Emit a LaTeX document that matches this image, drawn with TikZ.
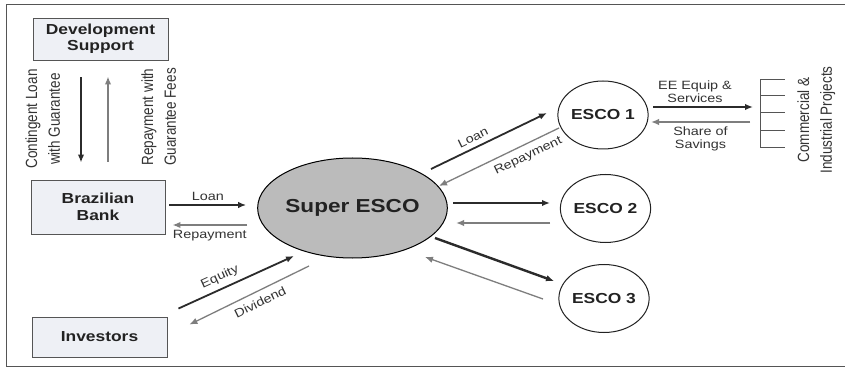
\documentclass[tikz,border=0pt]{standalone}
\usepackage{fontspec}
\usepackage{graphicx}
\setmainfont{Liberation Sans}[FakeStretch=1.2]
\newfontfamily\vfont{Liberation Sans}
\usetikzlibrary{arrows.meta,shapes.geometric,calc}
\definecolor{boxfill}{HTML}{EEF0F5}
\definecolor{boxline}{HTML}{555555}
\definecolor{darkarrow}{HTML}{2B2B2B}
\definecolor{grayarrow}{HTML}{7E7E7E}
\definecolor{txt}{HTML}{222222}
\definecolor{lbltxt}{HTML}{333333}
\definecolor{superfill}{HTML}{BBBBBB}
\begin{document}
\begin{tikzpicture}[x=1pt,y=-1pt,
  boxnode/.style={draw=boxline, line width=0.9pt, fill=boxfill, inner sep=0pt,
    align=center, text=txt, font=\bfseries\fontsize{14.5}{16.5}\selectfont},
  superstyle/.style={ellipse, draw=black, line width=1pt, fill=superfill, inner sep=0pt,
    minimum width=179pt, minimum height=100pt, text=txt, font=\bfseries\fontsize{18.8}{20}\selectfont},
  escostyle/.style={ellipse, draw=txt, line width=1pt, fill=white, inner sep=0pt,
    minimum width=86pt, minimum height=68pt, text=txt, font=\bfseries\fontsize{14.5}{16}\selectfont},
  lbl/.style={text=lbltxt, inner sep=1pt, align=center, font=\fontsize{12}{13}\selectfont},
  vlbl/.style={text=lbltxt, inner sep=0pt, font=\vfont\fontsize{13.5}{19}\selectfont},
  tip/.style={-{Latex[length=8pt,width=6.5pt]}},
  fwd/.style={tip, draw=darkarrow, line width=1.8pt},
  fwdthick/.style={tip, draw=darkarrow, line width=2.4pt},
  back/.style={tip, draw=grayarrow, line width=1.8pt},
  backthick/.style={tip, draw=grayarrow, line width=2.3pt},
  backthin/.style={tip, draw=grayarrow, line width=1.3pt},
  combline/.style={draw=boxline, line width=1pt}
]
\useasboundingbox (0,0) rectangle (845,371);
\fill[white] (0,0) rectangle (845,371);
\draw[boxline, line width=1pt] (6,5) rectangle (852,366);

% boxes
\node[boxnode, minimum width=135pt, minimum height=42pt] (dev) at (100.5,39) {Development\\Support};
\node[boxnode, minimum width=134pt, minimum height=54pt] (bank) at (98,207) {Brazilian\\Bank};
\node[boxnode, minimum width=135pt, minimum height=40pt] (inv) at (99.5,337) {Investors};

% ellipses
\node[superstyle] (super) at (352.5,208) {Super ESCO};
\node[escostyle] (e1) at (603,115) {ESCO 1};
\node[escostyle] (e2) at (605.5,208.5) {ESCO 2};
\node[escostyle] (e3) at (604,298.5) {ESCO 3};

% comb of projects
\coordinate (comb) at (760,114);
\draw[combline] ([shift={(0,-34)}]comb) -- ([shift={(0,34)}]comb);
\foreach \dy in {-34,-18,-1,17,34}
  \draw[combline] ([shift={(0,\dy)}]comb) -- ++(25,0);

% development support <-> bank
\draw[fwdthick] ([shift={(-19.5,17)}]dev.south) -- ([shift={(-17,-17)}]bank.north);
\draw[back] ([shift={(10,-18)}]bank.north) -- ([shift={(7.5,16)}]dev.south);
\node[vlbl, rotate=90] (contlbl) at (44,119)
  {\scalebox{1}[1.2]{\begin{tabular}{@{}c@{}}Contingent Loan\\with Guarantee\end{tabular}}};
\node[vlbl, rotate=90] (replbl) at (160,117)
  {\scalebox{1}[1.2]{\begin{tabular}{@{}c@{}}Repayment with\\Guarantee Fees\end{tabular}}};

% bank <-> super
\draw[fwdthick] ([shift={(4,-2)}]bank.east) -- node[lbl, above=2pt] {Loan} ([shift={(-11,-3)}]super.west);
\draw[backthick] ([shift={(-10,17)}]super.west) -- node[lbl, below=3pt] {Repayment} ([shift={(7,18)}]bank.east);

% investors <-> super
\draw[fwd] ([shift={(11,-8)}]inv.north east) -- node[lbl, sloped, above=4pt, pos=0.4] {Equity} ([shift={(-58.5,48)}]super.center);
\draw[backthin] ([shift={(-43.5,58)}]super.center) -- node[lbl, sloped, below=5pt, pos=0.45] {Dividend} ([shift={(22,8)}]inv.north east);

% super <-> ESCO 1
\draw[fwd] ([shift={(78.5,-39)}]super.center) -- node[lbl, sloped, above=4pt, pos=0.4] {Loan} ([shift={(-56,-2)}]e1.center);
\draw[backthin] ([shift={(-44,13)}]e1.center) -- node[lbl, sloped, below=5pt, pos=0.3] {Repayment} ([shift={(86.5,-22)}]super.center);

% super <-> ESCO 2
\draw[fwdthick] ([shift={(100.5,-5)}]super.center) -- ([shift={(-55.5,-5.5)}]e2.center);
\draw[backthick] ([shift={(-55.5,14.5)}]e2.center) -- ([shift={(103.5,15)}]super.center);

% super <-> ESCO 3
\draw[fwdthick] ([shift={(82.5,30)}]super.center) -- ([shift={(-50,-17.5)}]e3.center);
\draw[backthin] ([shift={(-61,0.5)}]e3.center) -- ([shift={(72.5,49)}]super.center);

% ESCO 1 <-> projects
\draw[fwd] ([shift={(50,-8)}]e1.center) -- node[lbl, above=2pt, pos=0.42] {EE Equip \&\\Services} ([shift={(-7,-7)}]comb);
\draw[backthick] ([shift={(-10,8)}]comb) -- node[lbl, below=3pt] {Share of\\Savings} ([shift={(48,7)}]e1.center);
\node[vlbl, rotate=90] (cip) at (816,120)
  {\scalebox{1}[1.2]{\begin{tabular}{@{}c@{}}Commercial \&\\Industrial Projects\end{tabular}}};
\end{tikzpicture}
\end{document}
